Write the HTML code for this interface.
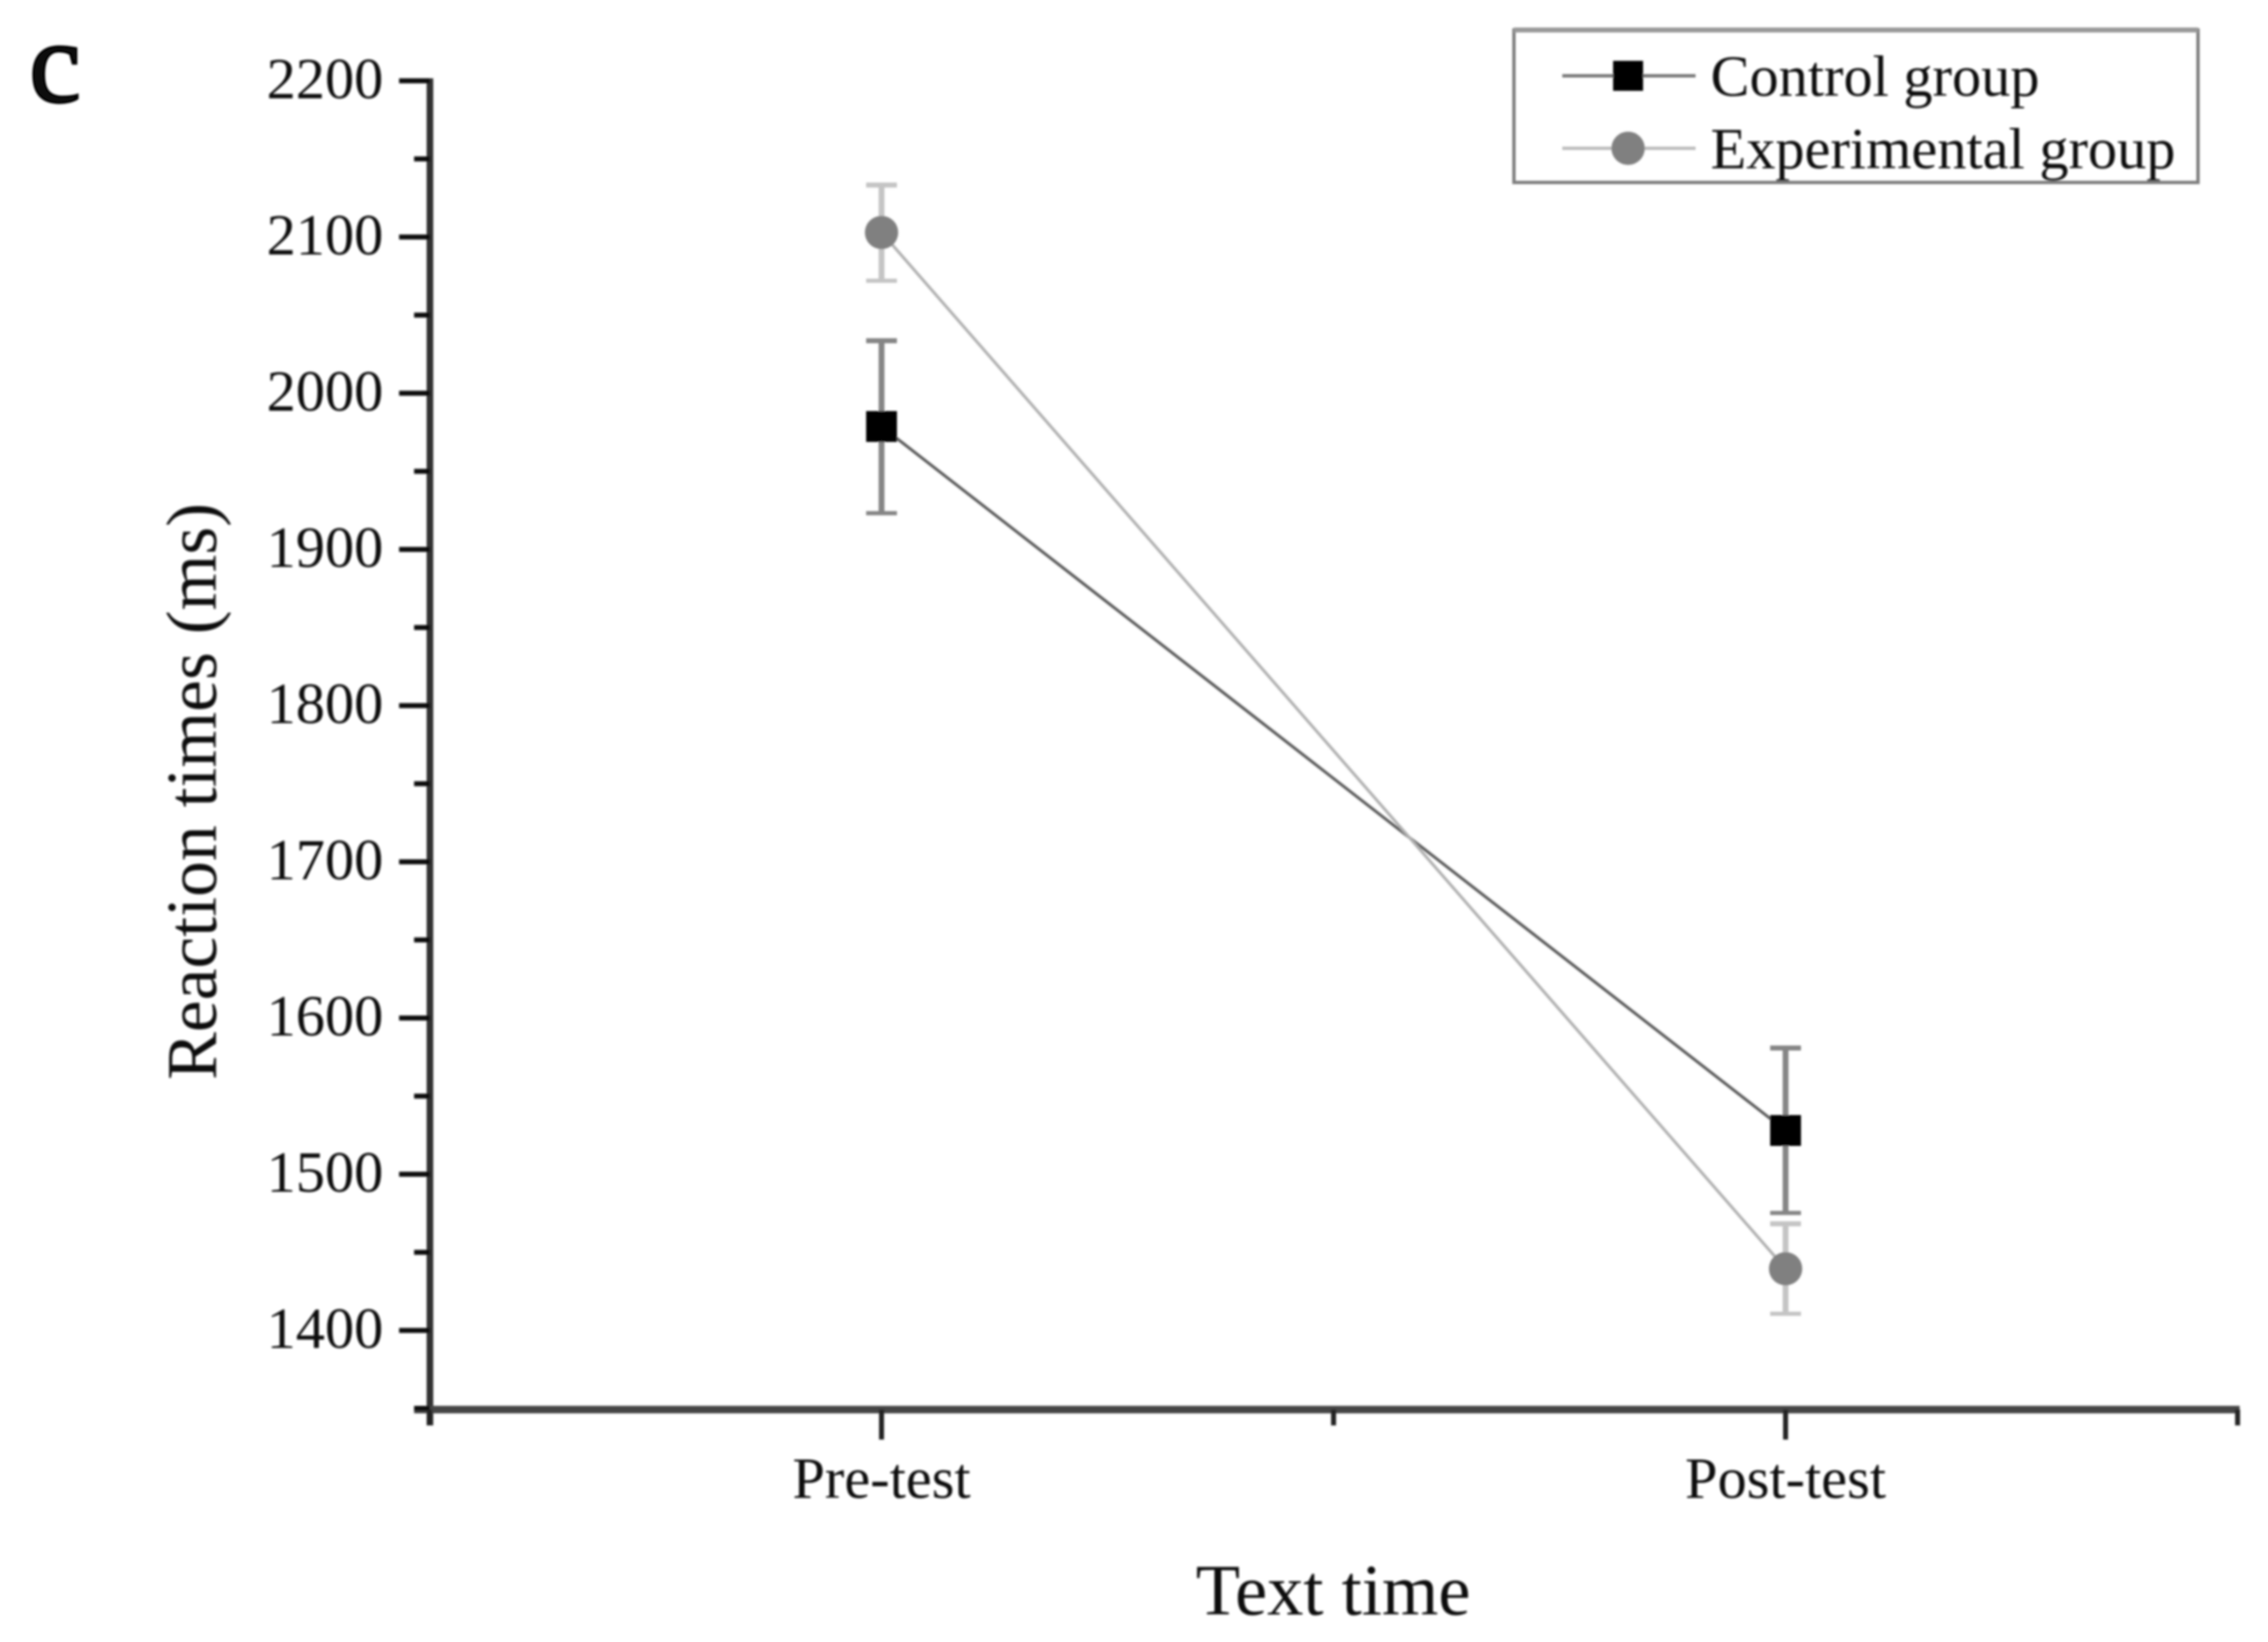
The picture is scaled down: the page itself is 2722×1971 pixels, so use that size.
<!DOCTYPE html>
<html>
<head>
<meta charset="utf-8">
<title>Reaction times chart</title>
<style>
html,body{margin:0;padding:0;background:#fff;}
svg{display:block;}
text{font-family:"Liberation Serif",serif;fill:#111;}
</style>
</head>
<body>
<svg id="chart" xmlns="http://www.w3.org/2000/svg" width="2722" height="1971" viewBox="0 0 2722 1971">
  <defs><filter id="soft" x="-2%" y="-2%" width="104%" height="104%"><feGaussianBlur stdDeviation="1.4"/></filter></defs>
  <rect width="2722" height="1971" fill="#fff"/>
  <g id="root" filter="url(#soft)">
    <text x="35" y="122" font-size="140" stroke="#000" stroke-width="3">c</text>
    <text x="259" y="950" font-size="86" text-anchor="middle" transform="rotate(-90 259 950)">Reaction times (ms)</text>
    <text x="1600" y="1938" font-size="87" text-anchor="middle">Text time</text>
    <g id="axes"></g>
    <g id="series"></g>
    <g>
      <rect x="1817" y="36" width="821" height="183" fill="none" stroke="#7d7d7d" stroke-width="4"/>
      <rect x="1817" y="33" width="821" height="6" fill="#9a9a9a"/>
      <line x1="1875" y1="91" x2="2035" y2="91" stroke="#777" stroke-width="4"/>
      <rect x="1936" y="73" width="36" height="36" fill="#000"/>
      <text x="2053" y="115" font-size="70">Control group</text>
      <line x1="1875" y1="178" x2="2035" y2="178" stroke="#bbb" stroke-width="4"/>
      <circle cx="1954" cy="178" r="20" fill="#808080"/>
      <text x="2053" y="202" font-size="70">Experimental group</text>
    </g>
  </g>
</svg>
<script>
const categories = ["Pre-test", "Post-test"];
const categoryPositions = [1, 2];
const xMinorTicks = [0.5, 1.5, 2.5];
const yTickLabels = [1400, 1500, 1600, 1700, 1800, 1900, 2000, 2100, 2200];
const yMinorTicks = [1350, 1450, 1550, 1650, 1750, 1850, 1950, 2050, 2150];
const controlMeans = [1978.7, 1528];
const controlUpper = [2033.6, 1580.8];
const controlLower = [1923.2, 1475.2];
const experimentalMeans = [2102.9, 1439.5];
const experimentalUpper = [2133.3, 1468.3];
const experimentalLower = [2072, 1410.7];

const SVGNS = "http://www.w3.org/2000/svg";
function xScale(v) { return 1058 + (v - 1) * 1085; }
function yScale(v) { return 97 + (2200 - v) * 1.875; }
function make(tag, parent) {
  const el = document.createElementNS(SVGNS, tag);
  parent.appendChild(el);
  return el;
}
function setLine(el, x1, y1, x2, y2, color, width) {
  el.setAttribute("x1", x1);
  el.setAttribute("y1", y1);
  el.setAttribute("x2", x2);
  el.setAttribute("y2", y2);
  el.setAttribute("stroke", color);
  el.setAttribute("stroke-width", width);
}

const axes = document.getElementById("axes");
const series = document.getElementById("series");

const yAxis = make("line", axes);


setLine(yAxis, 516, yScale(2200) - 3, 516, 1711, "#333", 8);

const xAxis = make("line", axes);


setLine(xAxis, 497, 1692, 2688, 1692, "#444", 9);

yTickLabels.forEach(function (v) {
  const tick = make("line", axes);
  
  
  setLine(tick, 479, yScale(v), 516, yScale(v), "#111", 6);
  const label = make("text", axes);
  
  
  label.setAttribute("x", 460);
  label.setAttribute("y", yScale(v) + 21);
  label.setAttribute("font-size", 70);
  label.setAttribute("text-anchor", "end");
  label.textContent = String(v);
});

yMinorTicks.forEach(function (v) {
  const tick = make("line", axes);
  
  
  setLine(tick, 497, yScale(v), 516, yScale(v), "#111", 6);
});

categories.forEach(function (name, i) {
  const x = xScale(categoryPositions[i]);
  const tick = make("line", axes);
  
  
  setLine(tick, x, 1692, x, 1728, "#222", 6);
  const label = make("text", axes);
  
  
  label.setAttribute("x", x);
  label.setAttribute("y", 1798);
  label.setAttribute("font-size", 70);
  label.setAttribute("text-anchor", "middle");
  label.textContent = name;
});

xMinorTicks.forEach(function (v) {
  const tick = make("line", axes);
  
  
  setLine(tick, xScale(v), 1692, xScale(v), 1711, "#222", 6);
});

function drawErrorBars(upper, lower, color) {
  categoryPositions.forEach(function (p, i) {
    const x = xScale(p);
    const stem = make("line", series);
    
    
    setLine(stem, x, yScale(upper[i]), x, yScale(lower[i]), color, 7);
    const top = make("line", series);
    
    
    setLine(top, x - 18.5, yScale(upper[i]), x + 18.5, yScale(upper[i]), color, 6);
    const bottom = make("line", series);
    
    
    setLine(bottom, x - 18.5, yScale(lower[i]), x + 18.5, yScale(lower[i]), color, 5);
  });
}

function drawLine(means, color) {
  const path = make("polyline", series);
  
  
  path.setAttribute("points", means.map(function (m, i) {
    return xScale(categoryPositions[i]) + "," + yScale(m);
  }).join(" "));
  path.setAttribute("fill", "none");
  path.setAttribute("stroke", color);
  path.setAttribute("stroke-width", 3.5);
}

drawErrorBars(experimentalUpper, experimentalLower, "#c4c4c4");
drawErrorBars(controlUpper, controlLower, "#858585");
drawLine(controlMeans, "#5a5a5a");
drawLine(experimentalMeans, "#b0b0b0");

experimentalMeans.forEach(function (m, i) {
  const dot = make("circle", series);
  
  
  dot.setAttribute("cx", xScale(categoryPositions[i]));
  dot.setAttribute("cy", yScale(m));
  dot.setAttribute("r", 20);
  dot.setAttribute("fill", "#808080");
});

controlMeans.forEach(function (m, i) {
  const box = make("rect", series);
  
  
  box.setAttribute("x", xScale(categoryPositions[i]) - 18.5);
  box.setAttribute("y", yScale(m) - 18.5);
  box.setAttribute("width", 37);
  box.setAttribute("height", 37);
  box.setAttribute("fill", "#000");
});
</script>
</body>
</html>
